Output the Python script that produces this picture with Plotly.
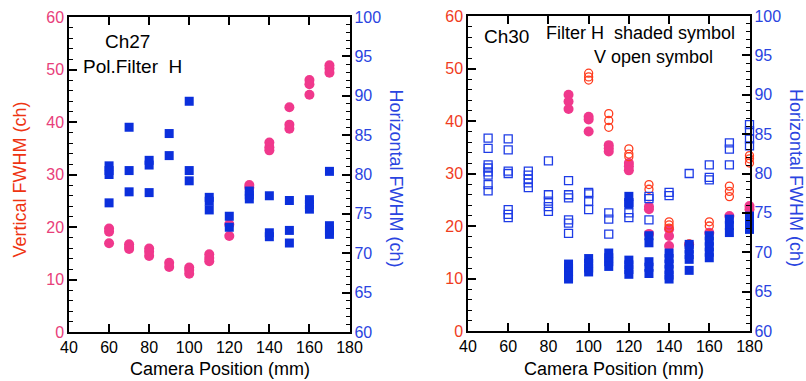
import plotly.graph_objects as go

# ---------------- Data: Ch27 (left panel) ----------------
ch27_vert_x = [60, 60, 60, 70, 70, 70, 80, 80, 80, 90, 90, 100, 100, 100,
               110, 110, 110, 120, 120, 130, 130, 140, 140, 140, 150, 150, 150,
               160, 160, 160, 170, 170, 170]
ch27_vert_y = [19.7, 19.1, 16.9, 16.7, 16.2, 15.8, 15.9, 15.3, 14.5, 13.2, 12.4,
               12.3, 11.8, 11.1, 14.8, 14.1, 13.5, 20.5, 18.3, 28.0, 27.5,
               36.1, 35.2, 34.6, 42.8, 39.5, 38.7, 48.0, 47.2, 45.2, 50.8, 50.2, 49.4]

ch27_horiz_x = [60, 60, 60, 60, 70, 70, 70, 80, 80, 80, 90, 90, 100, 100, 100,
                110, 110, 110, 120, 120, 130, 130, 130, 140, 140, 140,
                150, 150, 150, 160, 160, 160, 170, 170, 170, 170]
ch27_horiz_y = [81.1, 80.5, 80.0, 76.4, 86.0, 80.5, 77.8, 81.8, 81.2, 77.7, 85.2, 82.4,
                89.3, 80.5, 79.2, 77.1, 76.6, 75.5, 74.7, 73.3, 77.9, 77.4, 76.9,
                77.3, 72.6, 72.1, 76.7, 72.9, 71.3, 76.8, 76.2, 75.6, 80.4, 73.5, 72.9, 72.4]

# ---------------- Data: Ch30 (right panel) ----------------
# Filter H (shaded symbols)
ch30_h_vert_x = [90, 90, 90, 100, 100, 100, 110, 110, 110, 120, 120, 120,
                 130, 130, 130, 140, 140, 140, 150, 160, 170, 180, 180]
ch30_h_vert_y = [45.0, 43.7, 42.3, 40.8, 40.3, 38.0, 35.4, 34.8, 34.2, 32.0, 31.4, 30.6,
                 23.7, 23.2, 18.5, 19.4, 18.1, 16.2, 16.5, 18.7, 21.9, 23.8, 23.2]

ch30_h_horiz_x = [90, 90, 90, 90, 90, 100, 100, 100, 100, 110, 110, 110, 110,
                  120, 120, 120, 120, 120, 120, 130, 130, 130, 130, 130,
                  140, 140, 140, 140, 140, 140, 150, 150, 150, 150, 150,
                  160, 160, 160, 160, 160, 170, 170, 170, 180, 180, 180]
ch30_h_horiz_y = [68.5, 68.0, 67.5, 67.0, 66.6, 69.2, 68.6, 68.0, 67.5, 69.9, 69.3, 68.8, 68.2,
                  77.1, 76.1, 69.0, 68.4, 67.8, 67.2, 72.1, 71.2, 68.8, 68.1, 67.3,
                  69.9, 69.2, 68.5, 67.8, 67.1, 66.6, 71.0, 70.4, 69.7, 69.1, 67.7,
                  72.1, 71.4, 70.7, 70.0, 69.3, 74.2, 73.4, 72.5, 74.6, 73.8, 72.9]

# Filter V (open symbols)
ch30_v_vert_x = [100, 100, 100, 110, 110, 110, 120, 120, 120, 130, 130,
                 140, 140, 140, 150, 160, 160, 170, 170, 170, 180, 180, 180]
ch30_v_vert_y = [49.1, 48.4, 47.8, 41.4, 40.1, 38.8, 34.7, 33.7, 33.2, 27.9, 27.0,
                 20.8, 20.2, 19.6, 16.6, 20.8, 20.0, 27.6, 26.6, 25.6, 33.4, 32.8, 32.0]

ch30_v_horiz_x = [50, 50, 50, 50, 50, 50, 50, 50, 60, 60, 60, 60, 60, 60, 60,
                  70, 70, 70, 70, 70, 80, 80, 80, 80, 80,
                  90, 90, 90, 90, 90, 90, 100, 100, 100, 100,
                  110, 110, 110, 120, 120, 120, 130, 130, 130, 140, 140,
                  150, 160, 160, 160, 170, 170, 170, 180, 180, 180, 180]
ch30_v_horiz_y = [84.5, 83.2, 81.1, 80.7, 80.2, 79.8, 78.6, 77.8, 84.4, 83.0, 80.3, 80.0, 75.4, 74.8, 74.4,
                  80.3, 79.8, 79.3, 78.8, 78.2, 81.6, 77.3, 76.5, 75.8, 75.2,
                  79.1, 77.3, 76.9, 74.1, 73.7, 72.4, 77.6, 77.4, 76.5, 75.4,
                  75.0, 74.2, 72.3, 76.3, 75.0, 74.4, 77.1, 76.8, 74.1, 77.6, 77.2,
                  80.0, 81.1, 79.5, 79.2, 83.9, 83.1, 81.1, 86.2, 85.4, 84.4, 83.5]

x_ticks = [40, 60, 80, 100, 120, 140, 160, 180]
vert_ticks = [0, 10, 20, 30, 40, 50, 60]
horiz_ticks = [60, 65, 70, 75, 80, 85, 90, 95, 100]

# ---------------- Styling ----------------
W, H = 806, 381
FONT = "Liberation Sans"
PINK = "#f0388c"
ORANGE = "#ff3c1e"
BLUE = "#0b2fdc"
BLUE_OPEN = "#1e3ce6"
BLUE_TXT = "#2a44e0"
PINK_TXT = "#e8407a"
ORANGE_TXT = "#f03c1e"
TITLE_RED = "#ee3412"


def px_x(p):
    return p / W


def px_y(p):
    return 1 - p / H


fig = go.Figure()

# Left panel
fig.add_trace(go.Scatter(x=ch27_vert_x, y=ch27_vert_y, mode="markers", xaxis="x", yaxis="y",
                         marker=dict(symbol="circle", size=10, color=PINK, line=dict(width=0)),
                         cliponaxis=False, showlegend=False))
fig.add_trace(go.Scatter(x=ch27_horiz_x, y=ch27_horiz_y, mode="markers", xaxis="x", yaxis="y2",
                         marker=dict(symbol="square", size=9, color=BLUE, line=dict(width=0)),
                         cliponaxis=False, showlegend=False))

# Right panel
fig.add_trace(go.Scatter(x=ch30_h_vert_x, y=ch30_h_vert_y, mode="markers", xaxis="x2", yaxis="y3",
                         marker=dict(symbol="circle", size=10, color=PINK, line=dict(width=0)),
                         cliponaxis=False, showlegend=False))
fig.add_trace(go.Scatter(x=ch30_v_vert_x, y=ch30_v_vert_y, mode="markers", xaxis="x2", yaxis="y3",
                         marker=dict(symbol="circle-open", size=8, color=ORANGE, line=dict(width=1.3)),
                         cliponaxis=False, showlegend=False))
fig.add_trace(go.Scatter(x=ch30_v_horiz_x, y=ch30_v_horiz_y, mode="markers", xaxis="x2", yaxis="y4",
                         marker=dict(symbol="square-open", size=8, color=BLUE_OPEN, line=dict(width=1.3)),
                         cliponaxis=False, showlegend=False))
fig.add_trace(go.Scatter(x=ch30_h_horiz_x, y=ch30_h_horiz_y, mode="markers", xaxis="x2", yaxis="y4",
                         marker=dict(symbol="square", size=9, color=BLUE, line=dict(width=0)),
                         cliponaxis=False, showlegend=False))

tickfont = dict(family=FONT, size=16, color="black")

xcommon = dict(range=[40, 180], tickvals=x_ticks, ticks="inside", ticklen=8, tickwidth=1.5,
               tickcolor="black", showline=True, linecolor="black", linewidth=1.5, mirror="ticks",
               showgrid=False, zeroline=False, tickfont=tickfont, automargin=False)


def yleft(domain, anchor, color):
    return dict(domain=domain, anchor=anchor, range=[0, 60], tickvals=vert_ticks, ticks="inside",
                ticklen=8, tickwidth=1.5, tickcolor="black", showline=True, linecolor="black",
                linewidth=1.5, showgrid=False, zeroline=False, automargin=False,
                tickfont=dict(family=FONT, size=16, color=color),
                minor=dict(dtick=2, ticks="inside", ticklen=4, tickwidth=1.2, tickcolor="black",
                           showgrid=False))


def yright(overlay, anchor):
    return dict(overlaying=overlay, anchor=anchor, side="right", range=[60, 100],
                tickvals=horiz_ticks, ticks="inside", ticklen=8, tickwidth=1.5, tickcolor="black",
                showline=True, linecolor="black", linewidth=1.5, showgrid=False, zeroline=False,
                automargin=False,
                tickfont=dict(family=FONT, size=16, color=BLUE_TXT),
                minor=dict(dtick=1, ticks="inside", ticklen=4, tickwidth=1.2, tickcolor="black",
                           showgrid=False))


left_dom_x = [px_x(69), px_x(349.5)]
right_dom_x = [px_x(468), px_x(749.5)]
left_dom_y = [px_y(332), px_y(17)]
right_dom_y = [px_y(331), px_y(16)]

fig.update_layout(
    template="none",
    width=W, height=H,
    margin=dict(l=0, r=0, t=0, b=0, pad=0),
    paper_bgcolor="white", plot_bgcolor="white",
    font=dict(family=FONT, size=16, color="black"),
    xaxis=dict(domain=left_dom_x, anchor="y", **xcommon),
    xaxis2=dict(domain=right_dom_x, anchor="y3", **xcommon),
    yaxis=yleft(left_dom_y, "x", PINK_TXT),
    yaxis2=yright("y", "x"),
    yaxis3=yleft(right_dom_y, "x2", ORANGE_TXT),
    yaxis4=yright("y3", "x2"),
)

ann = []


def text(x, y, s, size=18, color="black", angle=0, xanchor="center"):
    ann.append(dict(x=px_x(x), y=px_y(y), xref="paper", yref="paper", text=s, showarrow=False,
                    xanchor=xanchor, yanchor="middle", textangle=angle, borderpad=0,
                    font=dict(family=FONT, size=size, color=color)))


# panel texts
text(104, 41.5, "Ch27", size=19, xanchor="left")
text(82, 66.5, "Pol.Filter  H", size=19, xanchor="left")
text(483, 36, "Ch30", size=19, xanchor="left")
text(545, 33, "Filter H  shaded symbol", size=18, xanchor="left")
text(593, 57, "V open symbol", size=18, xanchor="left")

# axis titles
text(219.5, 369, "Camera Position (mm)", size=18)
text(614, 369, "Camera Position (mm)", size=18)
text(19.5, 180, "Vertical FWHM (ch)", size=18, color=TITLE_RED, angle=-90)
text(396, 178.5, "Horizontal FWHM (ch)", size=18, color=BLUE_TXT, angle=90)
text(796, 178, "Horizontal FWHM (ch)", size=18, color=BLUE_TXT, angle=90)

fig.update_layout(annotations=ann)

fig.write_html("out.html")
